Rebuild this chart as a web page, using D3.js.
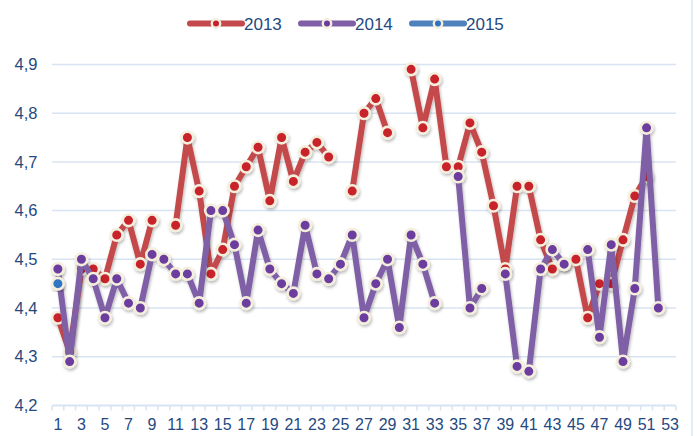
<!DOCTYPE html>
<html>
<head>
<meta charset="utf-8">
<script src="https://cdn.jsdelivr.net/npm/d3@7/dist/d3.min.js"></script>
<style>
  html, body { margin: 0; padding: 0; background: #ffffff; }
  svg { display: block; }
  text { font-family: "Liberation Sans", Arial, sans-serif; }
</style>
</head>
<body>
<svg id="chart" width="697" height="436"></svg>
<script>
// ---- data ----
const weeks = d3.range(1, 54);
const seriesNames = ["2013", "2014", "2015"];
const values2013 = [4.38,4.31,4.48,4.48,4.46,4.55,4.58,4.49,4.58,null,
                    4.57,4.75,4.64,4.47,4.52,4.65,4.69,4.73,4.62,4.75,
                    4.66,4.72,4.74,4.71,null,4.64,4.80,4.83,4.76,null,
                    4.89,4.77,4.87,4.69,4.69,4.78,4.72,4.61,4.48,4.65,
                    4.65,4.54,4.48,4.49,4.50,4.38,4.45,4.45,4.54,4.63,
                    4.67,null,null];
const values2014 = [4.48,4.29,4.50,4.46,4.38,4.46,4.41,4.40,4.51,4.50,
                    4.47,4.47,4.41,4.60,4.60,4.53,4.41,4.56,4.48,4.45,
                    4.43,4.57,4.47,4.46,4.49,4.55,4.38,4.45,4.50,4.36,
                    4.55,4.49,4.41,null,4.67,4.40,4.44,null,4.47,4.28,
                    4.27,4.48,4.52,4.49,null,4.52,4.34,4.53,4.29,4.44,
                    4.77,4.40,null];
const values2015 = [4.45].concat(new Array(52).fill(null));
const yTicks = [4.2, 4.3, 4.4, 4.5, 4.6, 4.7, 4.8, 4.9];
const xTickLabels = weeks.filter(w => w % 2 === 1);

// ---- styles ----
const lineColors = ["#c4494c", "#7f5fa6", "#4f81bd"];
const dotColors  = ["#c8202a", "#6b3c9e", "#2e74c2"];
const cream = "#f4eedd";
const textColor = "#25497f";
const gridColor = "#d8e4f1";

const svg = d3.select("#chart");
const defs = svg.append("defs");
const f = defs.append("filter").attr("id", "sh").attr("x", "-20%").attr("y", "-20%").attr("width", "140%").attr("height", "140%");
f.append("feDropShadow").attr("dx", 1).attr("dy", 2).attr("stdDeviation", 1.6)
  .attr("flood-color", "#000").attr("flood-opacity", 0.28);

const x = d3.scaleBand().domain(weeks).range([52, 676]).padding(0);
const cx = w => x(w) + x.bandwidth() / 2;
const y = d3.scaleLinear().domain([4.2, 4.9]).range([405.4, 64.5]);

// right border
svg.append("line").attr("x1", 692).attr("x2", 692).attr("y1", 0).attr("y2", 436)
  .attr("stroke", "#dbe6f2").attr("stroke-width", 1.5);

// gridlines
svg.append("g").selectAll("line").data(yTicks.filter(t => t > 4.2)).join("line")
  .attr("x1", 52).attr("x2", 676)
  .attr("y1", d => y(d)).attr("y2", d => y(d))
  .attr("stroke", gridColor).attr("stroke-width", 1.5);

// y axis labels
const fmt = v => d3.format(".1f")(v).replace(".", ",");
const yAxis = d3.axisLeft(y).tickValues(yTicks).tickFormat(fmt).tickSize(0).tickPadding(0);
const gy = svg.append("g").attr("transform", "translate(37.5,0)").call(yAxis);
gy.select(".domain").remove();
gy.selectAll("text").attr("fill", textColor).attr("font-size", 16.5)
  .attr("font-family", "'Liberation Sans', Arial, sans-serif");

// x axis line and boundary ticks
svg.append("line").attr("x1", 52).attr("x2", 676).attr("y1", y(4.2)).attr("y2", y(4.2))
  .attr("stroke", gridColor).attr("stroke-width", 2);
const boundaries = weeks.map(w => x(w)).concat([x(53) + x.bandwidth()]);
svg.append("g").selectAll("line").data(boundaries).join("line")
  .attr("x1", d => d).attr("x2", d => d)
  .attr("y1", y(4.2)).attr("y2", y(4.2) + 5)
  .attr("stroke", gridColor).attr("stroke-width", 1.5);

const xAxis = d3.axisBottom(x).tickValues(xTickLabels).tickSize(0).tickPadding(0);
const gx = svg.append("g").attr("transform", "translate(0," + (y(4.2) + 13) + ")").call(xAxis);
gx.select(".domain").remove();
gx.selectAll("text").attr("fill", textColor).attr("font-size", 16)
  .attr("font-family", "'Liberation Sans', Arial, sans-serif");

// series
const allValues = [values2013, values2014, values2015];
const line = d3.line()
  .defined(d => d.v !== null)
  .x(d => cx(d.w)).y(d => y(d.v))
  .curve(d3.curveLinear);

allValues.forEach((vals, i) => {
  const data = weeks.map((w, k) => ({ w: w, v: vals[k] }));
  const g = svg.append("g").attr("filter", "url(#sh)");
  g.append("path").datum(data)
    .attr("d", line)
    .attr("fill", "none")
    .attr("stroke", lineColors[i])
    .attr("stroke-width", 6)
    .attr("stroke-linejoin", "round")
    .attr("stroke-linecap", "round");
  g.selectAll("circle").data(data.filter(d => d.v !== null)).join("circle")
    .attr("cx", d => cx(d.w)).attr("cy", d => y(d.v))
    .attr("r", 5.8)
    .attr("fill", dotColors[i])
    .attr("stroke", cream)
    .attr("stroke-width", 2.6);
});

// legend
const legX = [190, 301, 412];
const lg = svg.append("g");
seriesNames.forEach((name, i) => {
  const g = lg.append("g").attr("transform", "translate(" + legX[i] + ",23.5)");
  g.append("line").attr("x1", 0).attr("x2", 52).attr("y1", 0).attr("y2", 0)
    .attr("stroke", lineColors[i]).attr("stroke-width", 6).attr("stroke-linecap", "round");
  g.append("circle").attr("cx", 26).attr("cy", 0).attr("r", 4.2)
    .attr("fill", dotColors[i]).attr("stroke", cream).attr("stroke-width", 2.4);
  g.append("text").attr("x", 54).attr("y", 0).attr("dy", "0.36em")
    .attr("fill", textColor).attr("font-size", 17).text(name);
});
</script>
</body>
</html>
